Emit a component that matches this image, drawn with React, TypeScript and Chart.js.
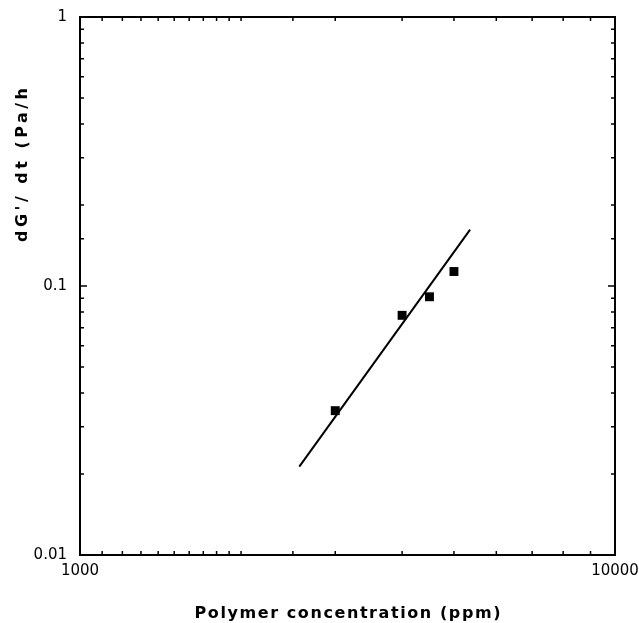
import React, { useEffect, useRef } from "react";
import { Chart, registerables } from "chart.js";

Chart.register(...registerables);

const concentrations = [3000, 4000, 4500, 5000];
const rates = [0.0344, 0.0778, 0.0912, 0.1132];
const fitConcentrations = [2570, 5360];
const fitRates = [0.0213, 0.162];
const xTickLabels = ["1000", "10000"];
const yTickLabels = ["0.01", "0.1", "1"];
const xTitle = "Polymer concentration (ppm)";
const yTitle = "dG'/ dt (Pa/h";

const isPow10 = (v: number) => {
  const l = Math.log10(v);
  return Math.abs(l - Math.round(l)) < 1e-6;
};

const labelFor = (v: number, labels: string[]) => {
  if (!isPow10(v)) return "";
  const found = labels.find((s) => Math.abs(parseFloat(s) - v) / v < 1e-6);
  return found ?? "";
};

function drawSpaced(ctx: any, text: string, cx: number, y: number, target: number) {
  ctx.letterSpacing = "0px";
  const w0 = ctx.measureText(text).width;
  const s = Math.max(0, (target - w0) / (text.length - 1));
  ctx.letterSpacing = s + "px";
  ctx.textAlign = "left";
  ctx.fillText(text, cx - target / 2, y);
  ctx.letterSpacing = "0px";
}

const framePlugin = {
  id: "frameTicks",
  afterDraw(chart: any) {
    const { ctx, chartArea: a, scales } = chart;
    ctx.save();
    ctx.strokeStyle = "#000";
    ctx.lineWidth = 1.5;
    const xs = scales.x;
    const ys = scales.y;
    ctx.beginPath();
    for (const t of xs.ticks) {
      const px = xs.getPixelForValue(t.value);
      const len = isPow10(t.value) ? 7 : 4;
      ctx.moveTo(px, a.bottom);
      ctx.lineTo(px, a.bottom - len);
      ctx.moveTo(px, a.top);
      ctx.lineTo(px, a.top + len);
    }
    for (const t of ys.ticks) {
      const py = ys.getPixelForValue(t.value);
      const len = isPow10(t.value) ? 7 : 4;
      ctx.moveTo(a.left, py);
      ctx.lineTo(a.left + len, py);
      ctx.moveTo(a.right, py);
      ctx.lineTo(a.right - len, py);
    }
    ctx.stroke();
    ctx.lineWidth = 2;
    ctx.strokeRect(a.left, a.top, a.right - a.left, a.bottom - a.top);

    ctx.fillStyle = "#000";
    ctx.font = "bold 16px 'DejaVu Sans'";
    ctx.textBaseline = "alphabetic";
    drawSpaced(ctx, xTitle, (a.left + a.right) / 2, 618, 306);
    ctx.translate(27, 165);
    ctx.rotate(-Math.PI / 2);
    drawSpaced(ctx, yTitle, 0, 0, 154);
    ctx.restore();
  },
};

export default function App() {
  const ref = useRef<HTMLCanvasElement>(null);
  useEffect(() => {
    if (!ref.current) return;
    const chart = new Chart(ref.current, {
      type: "scatter",
      data: {
        datasets: [
          {
            label: "data",
            data: concentrations.map((x, i) => ({ x, y: rates[i] })),
            pointStyle: "rect",
            pointRadius: 6.3,
            backgroundColor: "#000",
            borderColor: "#000",
            borderWidth: 0,
            showLine: false,
          },
          {
            label: "fit",
            data: fitConcentrations.map((x, i) => ({ x, y: fitRates[i] })),
            showLine: true,
            borderColor: "#000",
            borderWidth: 2,
            pointRadius: 0,
          },
        ],
      },
      options: {
        animation: false,
        responsive: true,
        maintainAspectRatio: false,
        layout: { padding: { top: 17, right: 24, left: 0, bottom: 0 } },
        plugins: { legend: { display: false }, tooltip: { enabled: false } },
        scales: {
          x: {
            type: "logarithmic",
            min: 1000,
            max: 10000,
            grid: { display: false, drawTicks: false },
            border: { display: false },
            afterFit: (s: any) => {
              s.height = 68;
              s.paddingLeft = 0;
              s.paddingRight = 0;
            },
            ticks: {
              autoSkip: false,
              maxRotation: 0,
              padding: 7,
              color: "#000",
              font: { family: "'DejaVu Sans'", size: 15 },
              callback: (v: any) => labelFor(Number(v), xTickLabels),
            },
          },
          y: {
            type: "logarithmic",
            min: 0.01,
            max: 1,
            grid: { display: false, drawTicks: false },
            border: { display: false },
            afterFit: (s: any) => {
              s.width = 80;
              s.paddingTop = 0;
              s.paddingBottom = 0;
            },
            ticks: {
              autoSkip: false,
              padding: 13,
              color: "#000",
              font: { family: "'DejaVu Sans'", size: 15 },
              callback: (v: any) => labelFor(Number(v), yTickLabels),
            },
          },
        },
      },
      plugins: [framePlugin],
    });
    return () => chart.destroy();
  }, []);
  return (
    <div style={{ position: "fixed", left: 0, top: 0, width: 639, height: 623, background: "#fff" }}>
      <canvas ref={ref} />
    </div>
  );
}
